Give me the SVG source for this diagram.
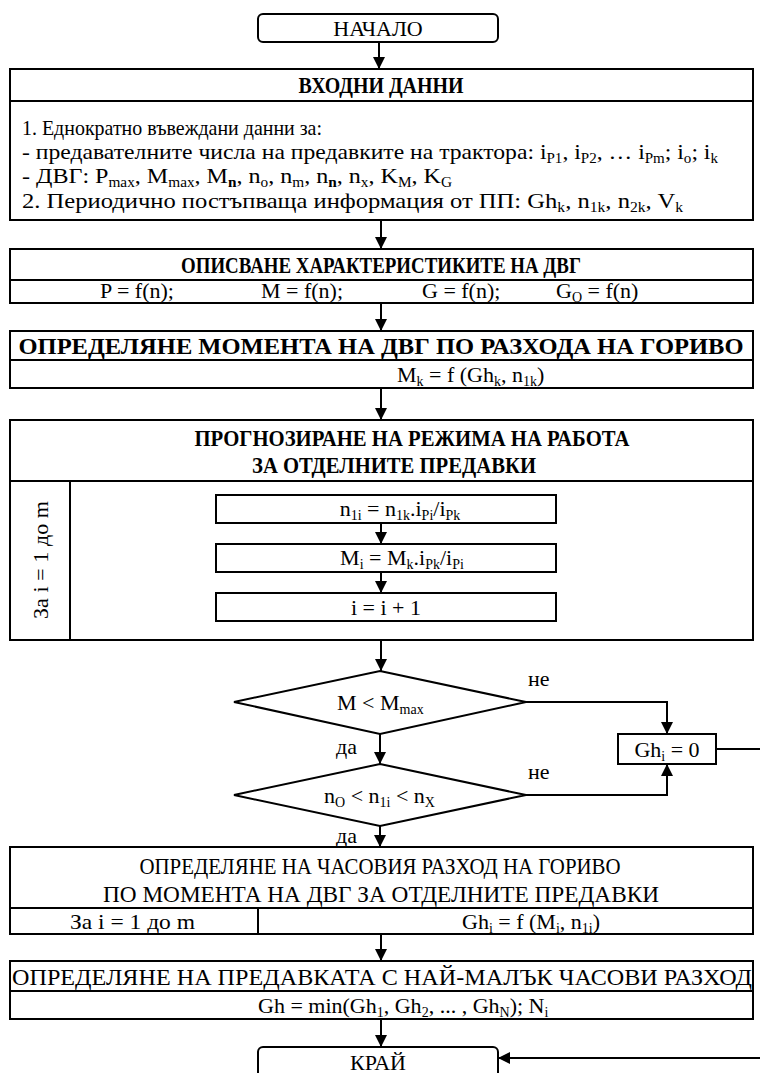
<svg xmlns="http://www.w3.org/2000/svg" width="760" height="1073" viewBox="0 0 760 1073">
<defs>
<marker id="ah" markerUnits="userSpaceOnUse" markerWidth="12" markerHeight="12" refX="12" refY="6" orient="auto"><path d="M0,0 L12,6 L0,12 z" fill="#000"/></marker>
<style>
.box{fill:#fff;stroke:#000;stroke-width:2}
.ln{stroke:#000;stroke-width:2;fill:none}
.c{stroke:#000;stroke-width:2;fill:none;marker-end:url(#ah)}
.t{font-family:"Liberation Serif","Times New Roman",serif;font-size:22px;fill:#000}
.h{font-family:"Liberation Serif","Times New Roman",serif;font-size:24px;font-weight:bold;fill:#000}
.r{font-family:"Liberation Serif","Times New Roman",serif;font-size:24px;fill:#000}
.m{text-anchor:middle}
.s{font-size:14px}
</style>
</defs>
<rect width="760" height="1073" fill="#fff"/>

<g id="start">
<rect class="box" x="258" y="14" width="240" height="28" rx="5"/>
<text class="t m" x="378" y="36">НАЧАЛО</text>
</g>

<g id="input">
<rect class="box" x="10" y="69" width="743" height="151"/>
<line class="ln" x1="10" y1="101" x2="753" y2="101"/>
<text class="h m" x="381" y="93" textLength="165" lengthAdjust="spacingAndGlyphs">ВХОДНИ ДАННИ</text>
<text class="t" x="22" y="135" textLength="300" lengthAdjust="spacingAndGlyphs">1. Еднократно въвеждани данни за:</text>
<text class="t" x="22" y="159" textLength="696" lengthAdjust="spacingAndGlyphs">- предавателните числа на предавките на трактора: i<tspan class="s" dy="4">P1</tspan><tspan dy="-4">, i</tspan><tspan class="s" dy="4">P2</tspan><tspan dy="-4">, … i</tspan><tspan class="s" dy="4">Pm</tspan><tspan dy="-4">; i</tspan><tspan class="s" dy="4">o</tspan><tspan dy="-4">; i</tspan><tspan class="s" dy="4">k</tspan></text>
<text class="t" x="22" y="183" textLength="430" lengthAdjust="spacingAndGlyphs">- ДВГ: P<tspan class="s" dy="4">max</tspan><tspan dy="-4">, M</tspan><tspan class="s" dy="4">max</tspan><tspan dy="-4">, M</tspan><tspan class="s" dy="4" font-weight="bold">n</tspan><tspan dy="-4">, n</tspan><tspan class="s" dy="4">o</tspan><tspan dy="-4">, n</tspan><tspan class="s" dy="4">m</tspan><tspan dy="-4">, n</tspan><tspan class="s" dy="4" font-weight="bold">n</tspan><tspan dy="-4">, n</tspan><tspan class="s" dy="4">x</tspan><tspan dy="-4">, K</tspan><tspan class="s" dy="4">M</tspan><tspan dy="-4">, K</tspan><tspan class="s" dy="4">G</tspan></text>
<text class="t" x="22" y="208" textLength="661" lengthAdjust="spacingAndGlyphs">2. Периодично постъпваща информация от ПП: Gh<tspan class="s" dy="4">k</tspan><tspan dy="-4">, n</tspan><tspan class="s" dy="4">1k</tspan><tspan dy="-4">, n</tspan><tspan class="s" dy="4">2k</tspan><tspan dy="-4">, V</tspan><tspan class="s" dy="4">k</tspan></text>
</g>

<g id="engine-char">
<rect class="box" x="10" y="249" width="743" height="54"/>
<line class="ln" x1="10" y1="280" x2="753" y2="280"/>
<text class="h m" x="381" y="273" textLength="400" lengthAdjust="spacingAndGlyphs">ОПИСВАНЕ ХАРАКТЕРИСТИКИТЕ НА ДВГ</text>
<text class="t" x="100" y="298">P = f(n);</text>
<text class="t" x="261" y="298">M = f(n);</text>
<text class="t" x="422" y="298">G = f(n);</text>
<text class="t" x="556" y="298">G<tspan class="s" dy="4">O</tspan><tspan dy="-4"> = f(n)</tspan></text>
</g>

<g id="moment">
<rect class="box" x="10" y="331" width="743" height="57"/>
<line class="ln" x1="10" y1="360" x2="753" y2="360"/>
<text class="h m" x="381" y="354" textLength="725" lengthAdjust="spacingAndGlyphs">ОПРЕДЕЛЯНЕ МОМЕНТА НА ДВГ ПО РАЗХОДА НА ГОРИВО</text>
<text class="t" x="397" y="382">M<tspan class="s" dy="4">k</tspan><tspan dy="-4"> = f (Gh</tspan><tspan class="s" dy="4">k</tspan><tspan dy="-4">, n</tspan><tspan class="s" dy="4">1k</tspan><tspan dy="-4">)</tspan></text>
</g>

<g id="forecast">
<rect class="box" x="10" y="420" width="743" height="220"/>
<line class="ln" x1="10" y1="481" x2="753" y2="481"/>
<line class="ln" x1="70" y1="481" x2="70" y2="640"/>
<text class="h m" x="412" y="446" textLength="435" lengthAdjust="spacingAndGlyphs">ПРОГНОЗИРАНЕ НА РЕЖИМА НА РАБОТА</text>
<text class="h m" x="394" y="473" textLength="284" lengthAdjust="spacingAndGlyphs">ЗА ОТДЕЛНИТЕ ПРЕДАВКИ</text>
<text class="t m" transform="translate(48,560) rotate(-90)" textLength="118" lengthAdjust="spacing">За i = 1 до m</text>
</g>

<g id="n1i">
<rect class="box" x="216" y="495" width="340" height="28"/>
<text class="t m" x="400" y="516">n<tspan class="s" dy="4">1i</tspan><tspan dy="-4"> = n</tspan><tspan class="s" dy="4">1k</tspan><tspan dy="-4">.i</tspan><tspan class="s" dy="4">Pi</tspan><tspan dy="-4">/i</tspan><tspan class="s" dy="4">Pk</tspan></text>
</g>
<g id="mi">
<rect class="box" x="216" y="544" width="340" height="28"/>
<text class="t m" x="402" y="565">M<tspan class="s" dy="4">i</tspan><tspan dy="-4"> = M</tspan><tspan class="s" dy="4">k</tspan><tspan dy="-4">.i</tspan><tspan class="s" dy="4">Pk</tspan><tspan dy="-4">/i</tspan><tspan class="s" dy="4">Pi</tspan></text>
</g>
<g id="inc">
<rect class="box" x="216" y="593" width="340" height="28"/>
<text class="t m" x="386" y="615">i = i + 1</text>
</g>

<g id="cond1">
<polygon class="box" points="380,671 526,702 380,734 234,702"/>
<text class="t" x="337" y="710">M &lt; M<tspan class="s" dy="4">max</tspan></text>
</g>
<g id="cond2">
<polygon class="box" points="380,764 526,795 380,826 234,795"/>
<text class="t" x="324" y="803">n<tspan class="s" dy="4">O</tspan><tspan dy="-4"> &lt; n</tspan><tspan class="s" dy="4">1i</tspan><tspan dy="-4"> &lt; n</tspan><tspan class="s" dy="4">X</tspan></text>
</g>
<g id="gh0">
<rect class="box" x="618" y="734" width="98" height="30"/>
<text class="t m" x="667" y="757">Gh<tspan class="s" dy="4">i</tspan><tspan dy="-4"> = 0</tspan></text>
</g>

<g id="hourly">
<rect class="box" x="10" y="847" width="743" height="87"/>
<line class="ln" x1="10" y1="908" x2="753" y2="908"/>
<line class="ln" x1="258" y1="908" x2="258" y2="934"/>
<text class="r m" x="380" y="874" textLength="481" lengthAdjust="spacingAndGlyphs">ОПРЕДЕЛЯНЕ НА ЧАСОВИЯ РАЗХОД НА ГОРИВО</text>
<text class="r m" x="381" y="902" textLength="556" lengthAdjust="spacingAndGlyphs">ПО МОМЕНТА НА ДВГ ЗА ОТДЕЛНИТЕ ПРЕДАВКИ</text>
<text class="t" x="70" y="929" textLength="125" lengthAdjust="spacingAndGlyphs">За i = 1 до m</text>
<text class="t" x="462" y="929">Gh<tspan class="s" dy="4">i</tspan><tspan dy="-4"> = f (M</tspan><tspan class="s" dy="4">i</tspan><tspan dy="-4">, n</tspan><tspan class="s" dy="4">1i</tspan><tspan dy="-4">)</tspan></text>
</g>

<g id="mingear">
<rect class="box" x="10" y="961" width="743" height="58"/>
<line class="ln" x1="10" y1="991" x2="753" y2="991"/>
<text class="r m" x="382" y="985" textLength="740" lengthAdjust="spacingAndGlyphs">ОПРЕДЕЛЯНЕ НА ПРЕДАВКАТА С НАЙ-МАЛЪК ЧАСОВИ РАЗХОД</text>
<text class="t" x="258" y="1013">Gh = min(Gh<tspan class="s" dy="4">1</tspan><tspan dy="-4">, Gh</tspan><tspan class="s" dy="4">2</tspan><tspan dy="-4">, ... , Gh</tspan><tspan class="s" dy="4">N</tspan><tspan dy="-4">); N</tspan><tspan class="s" dy="4">i</tspan></text>
</g>

<g id="end">
<rect class="box" x="258" y="1047" width="240" height="40" rx="5"/>
<text class="t m" x="378" y="1070">КРАЙ</text>
</g>

<g id="connectors">
<path class="c" d="M379,42 V69"/>
<path class="c" d="M381,220 V249"/>
<path class="c" d="M381,303 V331"/>
<path class="c" d="M381,388 V420"/>
<path class="c" d="M381,523 V544"/>
<path class="c" d="M381,572 V593"/>
<path class="c" d="M381,640 V671"/>
<path class="c" d="M380,734 V764"/>
<path class="c" d="M526,702 H667 V734"/>
<path class="c" d="M526,795 H667 V764"/>
<path class="c" d="M380,826 V847"/>
<path class="c" d="M381,934 V961"/>
<path class="c" d="M381,1019 V1047"/>
<path class="c" d="M716,749 H775 V1058 H498"/>
<text class="t" x="528" y="686">не</text>
<text class="t" x="528" y="779">не</text>
<text class="t" x="336" y="754">да</text>
<text class="t" x="336" y="843">да</text>
</g>
</svg>
